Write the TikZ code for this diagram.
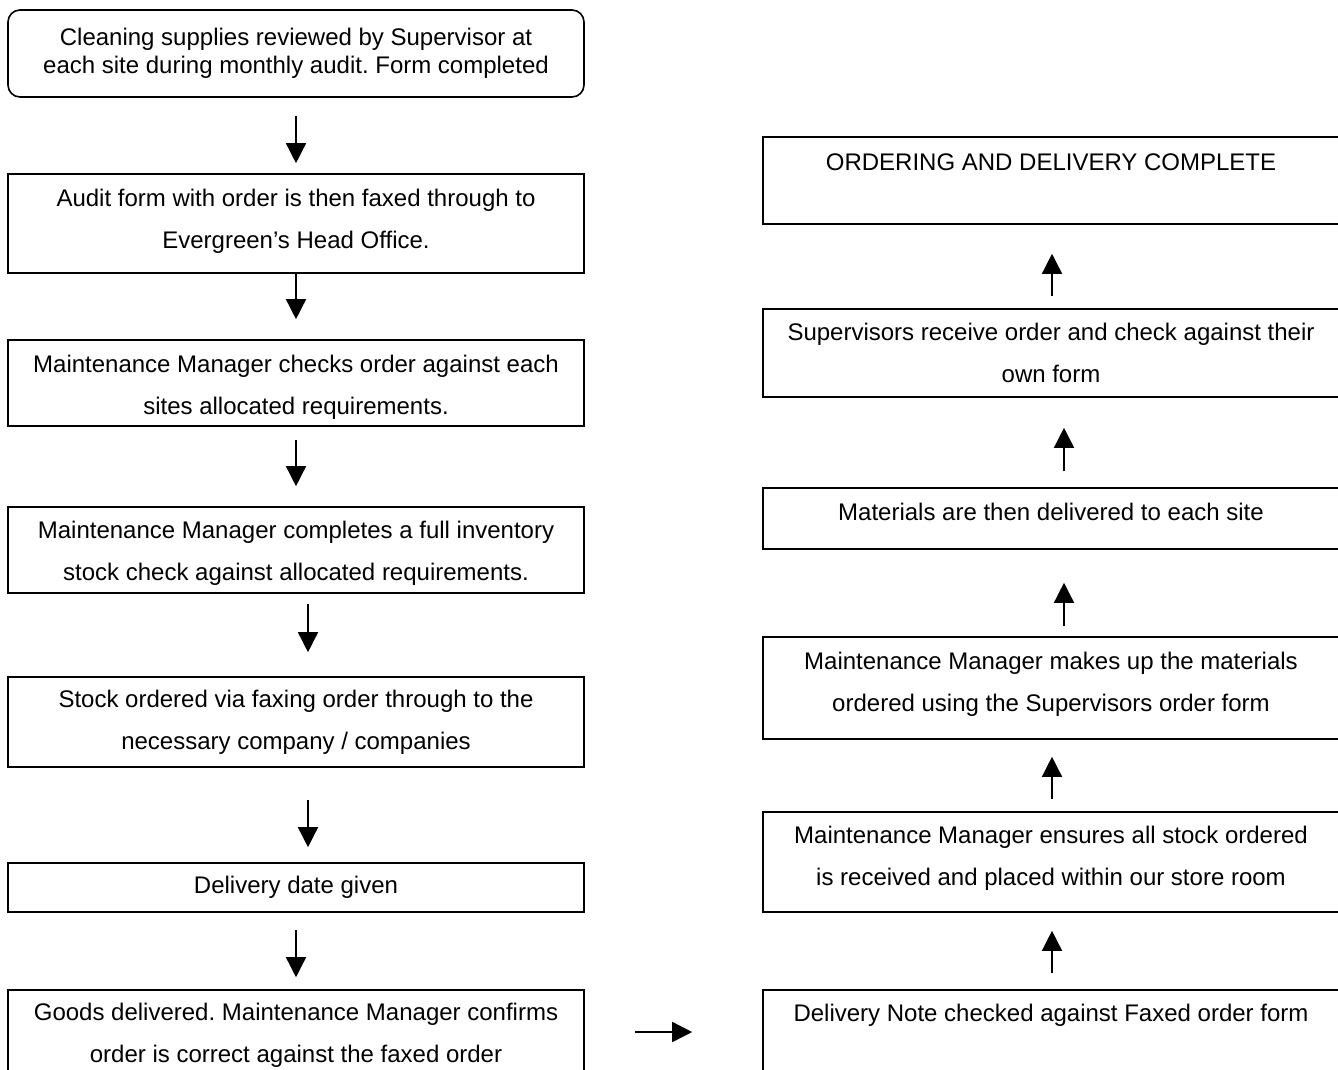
\documentclass[tikz,border=0pt]{standalone}
\usepackage{fontspec}
\setmainfont{Liberation Sans}
\usetikzlibrary{arrows.meta}
\newcommand\lowstrut[1]{\rule[-#1pt]{0pt}{#1pt}}
\newcommand\highstrut[1]{\rule{0pt}{#1pt}}
\frenchspacing
\begin{document}
\begin{tikzpicture}[x=1pt,y=-1pt,
  box/.style={draw, line width=1.6pt, minimum width=576pt, inner sep=0pt, align=center,
    font=\frenchspacing\fontsize{24}{42}\selectfont},
  arr/.style={line width=1.5pt, -{Triangle[length=20pt,width=20pt]}}]
\useasboundingbox (0,0) rectangle (1338,1070);
\clip (0,0) rectangle (1338,1070);
% left column
\node[box, rounded corners=12pt, minimum height=87pt, font=\frenchspacing\fontsize{24}{28}\selectfont] (b1) at (296,53.5)
  {Cleaning supplies reviewed by Supervisor at\\each site during monthly audit. Form completed};
\node[box, minimum height=99pt] (b2) at (296,223.5)
  {Audit form with order is then faxed through to\\Evergreen’s Head Office.\lowstrut{10}};
\node[box, minimum height=86pt] (b3) at (296,383)
  {\highstrut{25}Maintenance Manager checks order against each\\sites allocated requirements.};
\node[box, minimum height=86pt] (b4) at (296,550)
  {\highstrut{23}Maintenance Manager completes a full inventory\\stock check against allocated requirements.};
\node[box, minimum height=90pt] (b5) at (296,722)
  {Stock ordered via faxing order through to the\\necessary company / companies};
\node[box, minimum height=49pt] (b6) at (296,887.5)
  {Delivery date given};
\node[box, minimum height=90pt] (b7) at (296,1035)
  {Goods delivered. Maintenance Manager confirms\\order is correct against the faxed order};
% right column
\node[box, minimum height=87pt] (r1) at (1051,180.5)
  {\highstrut{20}ORDERING AND DELIVERY COMPLETE\lowstrut{40}};
\node[box, minimum height=88pt] (r2) at (1051,353)
  {Supervisors receive order and check against their\\own form};
\node[box, minimum height=61pt] (r3) at (1051,518.5)
  {Materials are then delivered to each site\lowstrut{14}};
\node[box, minimum height=102pt] (r4) at (1051,688)
  {Maintenance Manager makes up the materials\\ordered using the Supervisors order form\lowstrut{13}};
\node[box, minimum height=100pt] (r5) at (1051,862)
  {Maintenance Manager ensures all stock ordered\\is received and placed within our store room\lowstrut{13}};
\node[box, minimum height=100pt] (r6) at (1051,1040)
  {Delivery Note checked against Faxed order form\lowstrut{55}};
% left arrows
\draw[arr, shorten <=18pt, shorten >=10pt] (b1.south) -- (b2.north);
\draw[arr, shorten >=20pt] (b2.south) -- (b3.north);
\draw[arr, shorten <=13pt, shorten >=20pt] (b3.south) -- (b4.north);
\draw[arr, shorten <=10pt, shorten >=24pt] ([xshift=12pt]b4.south) -- ([xshift=12pt]b5.north);
\draw[arr, shorten <=32pt, shorten >=15pt] ([xshift=12pt]b5.south) -- ([xshift=12pt]b6.north);
\draw[arr, shorten <=17pt, shorten >=12pt] (b6.south) -- (b7.north);
% right arrows
\draw[arr, shorten <=12pt, shorten >=29pt] ([xshift=1pt]r2.north) -- ([xshift=1pt]r1.south);
\draw[arr, shorten <=16pt, shorten >=30pt] ([xshift=13pt]r3.north) -- ([xshift=13pt]r2.south);
\draw[arr, shorten <=10pt, shorten >=33pt] ([xshift=13pt]r4.north) -- ([xshift=13pt]r3.south);
\draw[arr, shorten <=12pt, shorten >=17pt] ([xshift=1pt]r5.north) -- ([xshift=1pt]r4.south);
\draw[arr, shorten <=16pt, shorten >=18pt] ([xshift=1pt]r6.north) -- ([xshift=1pt]r5.south);
% horizontal arrow
\coordinate (hy) at (0,1032);
\draw[arr, shorten <=50pt, shorten >=70pt] (b7.east |- hy) -- (r6.west |- hy);
\end{tikzpicture}
\end{document}
